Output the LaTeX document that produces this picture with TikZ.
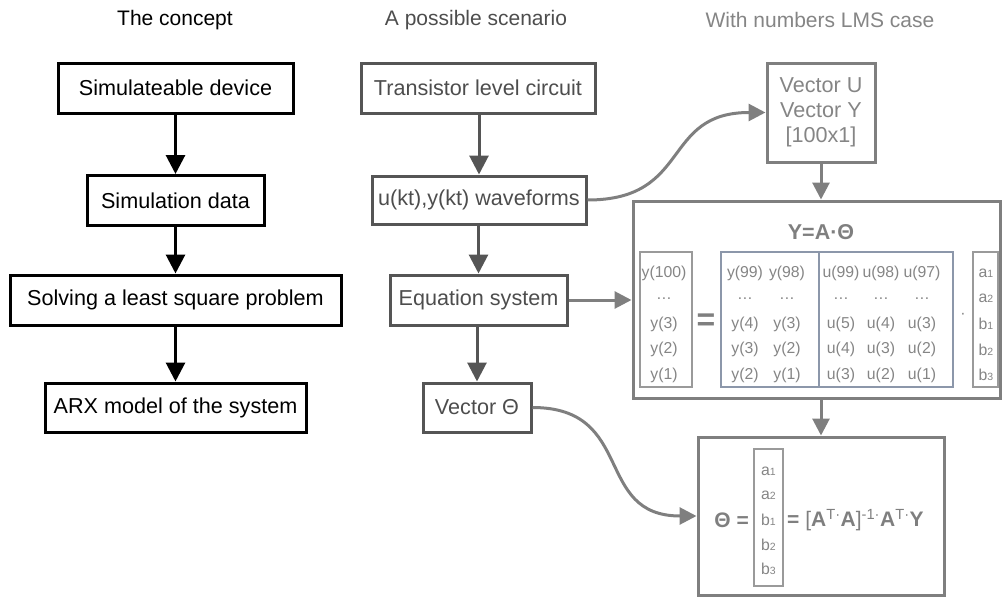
\documentclass[tikz,border=0pt]{standalone}
\usepackage{fontspec}
\setmainfont{Liberation Sans}
\usetikzlibrary{arrows.meta}
\definecolor{midgray}{HTML}{555555}
\definecolor{midtext}{HTML}{4D4D4D}
\definecolor{litegray}{HTML}{7F7F7F}
\definecolor{litetext}{HTML}{858585}
\definecolor{thingray}{HTML}{9A9A9A}
\definecolor{slate}{HTML}{8C97AA}
\newcommand\fsz[2]{\fontsize{#1}{#2}\selectfont}
\newcommand\subdig[1]{{\fsz{10.5}{10.5}#1}}
\begin{document}
\begin{tikzpicture}[x=1pt,y=-1pt,
  box/.style={draw, line width=3pt, inner sep=0pt, align=center},
  conceptbox/.style={box, draw=black, text=black, font=\fsz{21.6}{25}},
  scenbox/.style={box, draw=midgray, text=midtext, font=\fsz{21.6}{25}},
  lmsbox/.style={box, draw=litegray, text=litetext, font=\fsz{21.6}{25}},
  innerbox/.style={draw=thingray, line width=1.2pt, inner sep=0pt},
  entry/.style={text=litetext, font=\fsz{15.8}{18}, inner sep=0pt},
  heading/.style={font=\fsz{21}{24}, inner sep=0pt},
  conarrow/.style={draw=black, line width=3pt, -{Triangle[length=19pt,width=19pt]}},
  scenarrow/.style={draw=midgray, line width=3pt, -{Triangle[length=19pt,width=19pt]}},
  lmsarrow/.style={draw=litegray, line width=3pt, -{Triangle[length=17pt,width=17pt]}},
]
\useasboundingbox (0,0) rectangle (1002,597);

% column headings
\node[heading, text=black] (h1) at (175,20) {The concept};
\node[heading, text=midtext] (h2) at (476,20) {A possible scenario};
\node[heading, text=litetext] (h3) at (820,20) {With numbers LMS case};

% the concept
\node[conceptbox, minimum width=235pt, minimum height=50pt] (sd) at (175.5,88) {Simulateable device};
\node[conceptbox, minimum width=177pt, minimum height=50pt] (simd) at (175.5,200.5) {Simulation data};
\node[conceptbox, minimum width=331pt, minimum height=50pt] (lsq) at (175.5,300) {Solving a least square problem};
\node[conceptbox, minimum width=261pt, minimum height=49pt] (arx) at (175.5,407.5) {ARX model of the system};
\draw[conarrow] (sd) -- (simd);
\draw[conarrow] (simd) -- (lsq);
\draw[conarrow] (lsq) -- (arx);

% a possible scenario
\node[scenbox, minimum width=234pt, minimum height=50pt] (tlc) at (478,88) {Transistor level circuit};
\node[scenbox, minimum width=214pt, minimum height=48pt] (wav) at (479,200) {u(kt),y(kt) waveforms};
\node[scenbox, minimum width=177pt, minimum height=50pt] (eqs) at (478.5,300) {Equation system};
\node[scenbox, minimum width=108pt, minimum height=49pt] (vth) at (477,407.5) {Vector Θ};
\draw[scenarrow] (tlc.south -| wav.north) -- (wav.north);
\draw[scenarrow] (wav.south -| eqs.north) -- (eqs.north);
\draw[scenarrow] (eqs.south -| vth.north) -- (vth.north);

% LMS case with numbers
\node[lmsbox, minimum width=108pt, minimum height=99pt] (vec) at (821,112.5) {Vector U\\Vector Y\\{[100x1]}};
\node[box, draw=litegray, minimum width=367pt, minimum height=197pt] (mat) at (816.5,299.5) {};
\node[box, draw=litegray, minimum width=246pt, minimum height=158pt] (res) at (821,516) {};

\draw[lmsarrow] (vec.south) -- (vec.south |- mat.north);
\draw[lmsarrow] (mat.south -| res.north) -- (res.north);
\draw[lmsarrow] (eqs.east) -- (eqs.east -| mat.west);
\draw[lmsarrow] (wav.east) to[out=0,in=180,looseness=1.35] (vec.west);
\draw[lmsarrow] (vth.east) to[out=0,in=180,looseness=1.35] (res.west);

% matrix equation
\node[text=litegray, font=\fsz{21.5}{25}\bfseries, inner sep=0pt] (yat) at (821,232) {Y=A·Θ};

\node[innerbox, minimum width=52pt, minimum height=135pt] (yvec) at (666,319.5) {};
\foreach \t [count=\i] in {y(100),…,y(3),y(2),y(1)}
  \node[entry] (yv\i) at (664,{247.5+25.5*\i}) {\t};

\node[text=litegray, font=\fsz{32}{32}\bfseries, inner sep=0pt] (eqsign) at (706,322) {=};

\node[draw=slate, line width=1.2pt, inner sep=0pt, minimum width=232pt, minimum height=135pt] (amat) at (837,319.5) {};
\coordinate (divtop) at (819,252);
\coordinate (divbot) at (819,387);
\draw[slate, line width=1.2pt] (divtop) -- (divbot);

\foreach \row [count=\r] in {{y(99),y(98),u(99),u(98),u(97)},{…,…,…,…,…},{y(4),y(3),u(5),u(4),u(3)},{y(3),y(2),u(4),u(3),u(2)},{y(2),y(1),u(3),u(2),u(1)}}
  \foreach \e [count=\c] in \row {
    \pgfmathsetmacro\cx{{745,787,841,881,922}[\c-1]}
    \node[entry] (a\r-\c) at (\cx,{247.5+25.5*\r}) {\e};
  }

\node[entry] (dotop) at (963,316) {·};

\node[innerbox, minimum width=25pt, minimum height=135pt] (avec) at (985.5,319.5) {};
\foreach \t [count=\i] in {a\subdig{1},a\subdig{2},b\subdig{1},b\subdig{2},b\subdig{3}}
  \node[entry] (av\i) at (986,{247.5+25.5*\i}) {\t};

% least squares solution
\node[text=litegray, font=\fsz{21}{24}\bfseries, inner sep=0pt, anchor=east] (thq) at (749,520) {Θ =};
\node[innerbox, minimum width=29pt, minimum height=137pt] (tvec) at (768.5,517.5) {};
\foreach \t [count=\i] in {a\subdig{1},a\subdig{2},b\subdig{1},b\subdig{2},b\subdig{3}}
  \node[entry] (tv\i) at (768.5,{446.5+24.5*\i}) {\t};
\node[text=litegray, font=\fsz{21}{24}, inner sep=0pt, anchor=west] (form) at (787,520)
  {\textbf{=} [\textbf{A}\textsuperscript{T·}\textbf{A}]\textsuperscript{-1·}\textbf{A}\textsuperscript{T·}\textbf{Y}};
\end{tikzpicture}
\end{document}
